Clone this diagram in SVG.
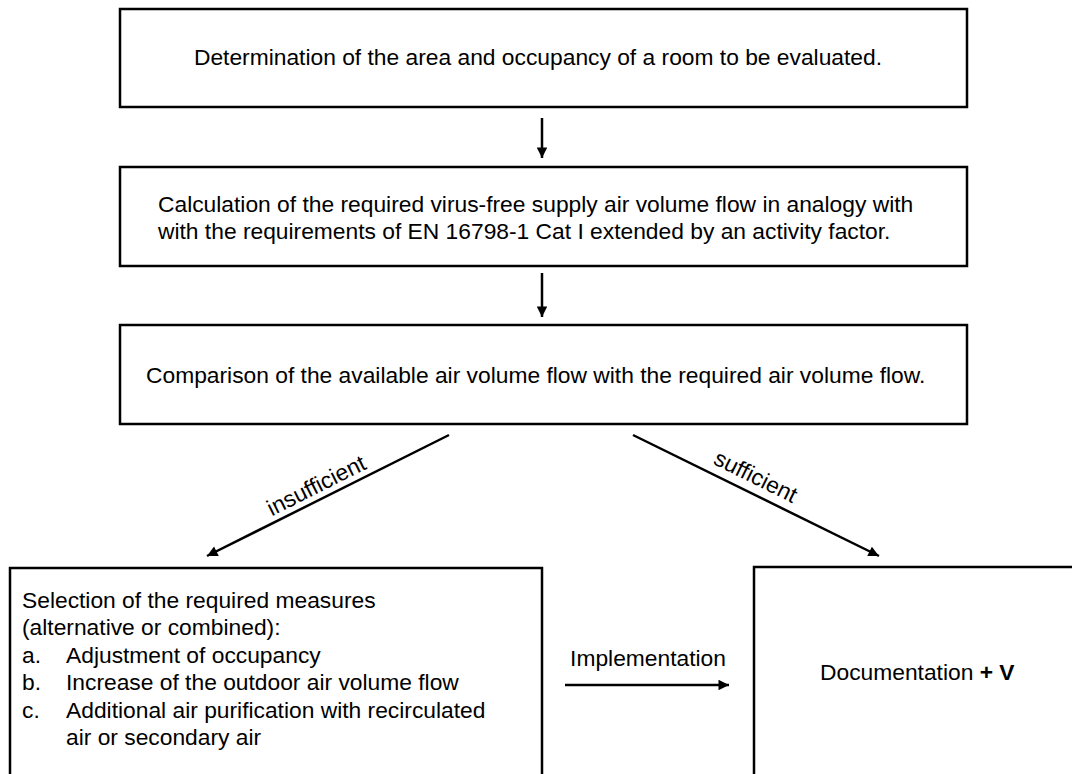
<svg xmlns="http://www.w3.org/2000/svg" width="1072" height="774" viewBox="0 0 1072 774">
<style>
.box{fill:#fff;stroke:#000;stroke-width:2.5}
.t{font-family:"Liberation Sans",Arial,sans-serif;font-size:22.8px;fill:#000}
.c{stroke:#000;stroke-width:2.5;fill:none}
</style>
<defs>
<marker id="ah" viewBox="0 0 10 10" refX="10" refY="5" markerWidth="5.8" markerHeight="4.2" markerUnits="strokeWidth" orient="auto">
<path d="M0,0 L10,5 L0,10 z" fill="#000"/>
</marker>
</defs>
<rect width="1072" height="774" fill="#fff"/>
<g id="n1">
<rect class="box" x="120" y="9" width="847" height="98"/>
<text class="t" x="538" y="65" text-anchor="middle">Determination of the area and occupancy of a room to be evaluated.</text>
</g>
<g id="n2">
<rect class="box" x="120" y="167" width="847" height="99"/>
<text class="t" x="158" y="212">Calculation of the required virus-free supply air volume flow in analogy with</text>
<text class="t" x="158" y="239">with the requirements of EN 16798-1 Cat I extended by an activity factor.</text>
</g>
<g id="n3">
<rect class="box" x="120" y="325" width="847" height="99"/>
<text class="t" x="146" y="383">Comparison of the available air volume flow with the required air volume flow.</text>
</g>
<g id="n4">
<rect class="box" x="10" y="568" width="532" height="220"/>
<text class="t" x="22" y="608">Selection of the required measures</text>
<text class="t" x="22" y="635">(alternative or combined):</text>
<text class="t" x="22" y="663">a.</text><text class="t" x="66" y="663">Adjustment of occupancy</text>
<text class="t" x="22" y="690">b.</text><text class="t" x="66" y="690">Increase of the outdoor air volume flow</text>
<text class="t" x="22" y="718">c.</text><text class="t" x="66" y="718">Additional air purification with recirculated</text>
<text class="t" x="66" y="745">air or secondary air</text>
</g>
<g id="n5">
<rect class="box" x="754" y="567" width="340" height="220"/>
<text class="t" x="820" y="680">Documentation <tspan font-weight="bold">+ V</tspan></text>
</g>
<g id="connectors">
<line class="c" x1="542" y1="118" x2="542" y2="158" marker-end="url(#ah)"/>
<line class="c" x1="542" y1="273" x2="542" y2="317" marker-end="url(#ah)"/>
<line class="c" x1="449" y1="435" x2="207" y2="556" marker-end="url(#ah)"/>
<line class="c" x1="633" y1="435" x2="879" y2="556" marker-end="url(#ah)"/>
<line class="c" x1="565" y1="685" x2="729" y2="685" marker-end="url(#ah)"/>
<text class="t" transform="translate(317,487) rotate(-26.6)" text-anchor="middle" y="6">insufficient</text>
<text class="t" transform="translate(755,478) rotate(26.4)" text-anchor="middle" y="6">sufficient</text>
<text class="t" x="648" y="666" text-anchor="middle">Implementation</text>
</g>
</svg>
